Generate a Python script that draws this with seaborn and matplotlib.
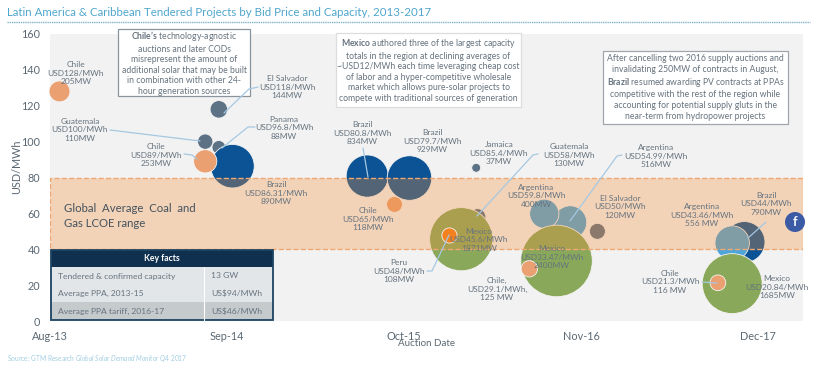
import matplotlib
matplotlib.use("Agg")
import matplotlib.pyplot as plt
import pandas as pd
import seaborn as sns
from matplotlib.lines import Line2D
from matplotlib.patches import Ellipse, Rectangle

W, H = 818, 372

# months since Aug-13
months = [0.7, 12.4, 11.4, 12.4, 13.4, 11.4, 23.3, 26.4, 25.3, 31.3, 31.4, 30.2, 29.3,
          38.2, 36.3, 40.2, 37.2, 35.2, 51.0, 50.1, 50.1, 49.05]
prices = [128, 118, 100, 96.8, 86.31, 89, 80.8, 79.7, 65, 85.4, 58, 45.6, 48,
          54.99, 59.8, 50, 33.47, 29.1, 44, 43.46, 20.84, 21.3]
capacity = [205, 144, 110, 88, 890, 253, 834, 929, 118, 37, 130, 1871, 108,
            516, 400, 120, 2400, 125, 790, 556, 1685, 116]
country = ["Chile", "El Salvador", "Guatemala", "Panama", "Brazil", "Chile", "Brazil", "Brazil",
           "Chile", "Jamaica", "Guatemala", "Mexico", "Peru", "Argentina", "Argentina",
           "El Salvador", "Mexico", "Chile", "Brazil", "Argentina", "Mexico", "Chile"]

colors = {"Chile": "#eaa070", "El Salvador": "#5d7285", "Guatemala": "#5d7285", "Panama": "#5d7285",
          "Jamaica": "#5d7285", "Brazil": "#0b5394", "Mexico": "#8aa85a", "Peru": "#f5801e",
          "Argentina": "#4ea5d9"}

tick_pos = [0, 13, 26, 39, 52]
tick_names = ["Aug-13", "Sep-14", "Oct-15", "Nov-16", "Dec-17"]

labels = [
    ("Chile\nUSD128/MWh\n205MW", 76, 73),
    ("El Salvador\nUSD118/MWh\n144MW", 287, 87),
    ("Guatemala\nUSD100/MWh\n110MW", 80, 130),
    ("Panama\nUSD96.8/MWh\n88MW", 284, 128),
    ("Chile\nUSD89/MWh\n253MW", 156, 155),
    ("Brazil\nUSD86.31/MWh\n890MW", 276, 193),
    ("Brazil\nUSD80.8/MWh\n834MW", 362, 133),
    ("Brazil\nUSD79.7/MWh\n929MW", 432, 141),
    ("Chile\nUSD65/MWh\n118MW", 368, 219),
    ("Jamaica\nUSD85.4/MWh\n37MW", 499, 153),
    ("Guatemala\nUSD58/MWh\n130MW", 569, 155),
    ("Argentina\nUSD54.99/MWh\n516MW", 656, 156),
    ("Argentina\nUSD59.8/MWh\n400MW", 536, 196),
    ("El Salvador\nUSD50/MWh\n120MW", 620, 207),
    ("Mexico\nUSD45.6/MWh\n1871MW", 479, 240),
    ("Peru\nUSD48/MWh\n108MW", 399, 271),
    ("Mexico\nUSD33.47/MWh\n2400MW", 552, 257),
    ("Chile,\nUSD29.1/MWh,\n125 MW", 497, 289),
    ("Argentina\nUSD43.46/MWh\n556 MW", 702, 215),
    ("Brazil\nUSD44/MWh\n790MW", 766, 204),
    ("Chile\nUSD21.3/MWh\n116 MW", 670, 282),
    ("Mexico\nUSD20.84/MWh\n1685MW", 777, 287),
]

leaders = [
    [(258, 87), (249, 89), (224, 113)],
    [(110, 130), (200, 141)],
    [(255, 127), (248, 127), (222, 148)],
    [(184, 154), (192, 155), (197, 159)],
    [(363, 148), (368, 177)],
    [(538, 154), (533, 155), (477, 216)],
    [(622, 155), (617, 156), (570, 221)],
    [(427, 271), (432, 271), (449, 235)],
    [(766, 222), (748, 238)],
    [(702, 282), (717, 283)],
]

notes = [
    ("$\\mathbf{Chile’s}$ technology-agnostic\nauctions and later CODs\nmisrepresent the amount of\n"
     "additional solar that may be built\nin combination with other 24-\nhour generation sources",
     (118, 29, 250, 96), "#8a949c"),
    ("$\\mathbf{Mexico}$ authored three of the largest capacity\ntotals in the region at declining averages of\n"
     "~USD12/MWh each time leveraging cheap cost\nof labor and a hyper-competitive wholesale\n"
     "market which allows pure-solar projects to\ncompete with traditional sources of generation",
     (336, 33, 521, 107), "#dddddd"),
    ("After cancelling two 2016 supply auctions and\ninvalidating 250MW of contracts in August,\n"
     "$\\mathbf{Brazil}$ resumed awarding PV contracts at PPAs\ncompetitive with the rest of the region while\n"
     "accounting for potential supply gluts in the\nnear-term from hydropower projects",
     (603, 51, 788, 124), "#a0a6ab"),
]

facts_left = ["Tendered & confirmed capacity", "Average PPA, 2013-15", "Average PPA tariff, 2016-17"]
facts_right = ["13 GW", "US\\$94/MWh", "US\\$46/MWh"]

TEXT = "#66737f"


def fx(x):
    return x / W


def fy(y):
    return 1 - y / H


def main():
    sns.set_style("white")
    plt.rcParams["font.family"] = ["Lato", "DejaVu Sans"]
    plt.rcParams["mathtext.fontset"] = "custom"
    plt.rcParams["mathtext.rm"] = "Lato"
    plt.rcParams["mathtext.bf"] = "Lato:bold"
    plt.rcParams["mathtext.it"] = "Lato:italic"

    df = pd.DataFrame({"month": months, "price": prices, "mw": capacity, "country": country})

    fig = plt.figure(figsize=(W / 100, H / 100), dpi=100)
    ax = fig.add_axes([fx(50), fy(321), (803 - 50) / W, (321 - 34) / H])
    ax.set_facecolor("#f2f2f2")

    kw = dict(x="month", y="price", size="mw", hue="country", palette=colors, sizes=(41, 2652),
              size_norm=(37, 2400), legend=False, edgecolor="#f4f4f4", linewidth=0.6, clip_on=False, ax=ax)
    sns.scatterplot(data=df[df.country != "Peru"], zorder=2, **kw)
    ax.axhspan(40, 80, facecolor=(0.97, 0.55, 0.2, 0.3), edgecolor="#f0a872", linestyle="--",
               linewidth=1, zorder=3)
    sns.scatterplot(data=df[df.country == "Peru"], zorder=4, **kw)

    ax.set_xlim(0, 55.3)
    ax.set_ylim(0, 160)
    ax.set_xticks(tick_pos, tick_names)
    ax.set_yticks(range(0, 161, 20))
    ax.tick_params(axis="both", length=0, labelsize=7.8, labelcolor="#5b6873")
    ax.tick_params(axis="x", pad=7)
    ax.tick_params(axis="y", pad=7)
    ax.set_xlabel("")
    ax.set_ylabel("")
    sns.despine(ax=ax, left=True, bottom=True)

    # title and footer
    fig.text(fx(7), fy(12), "Latin America & Caribbean Tendered Projects by Bid Price and Capacity, 2013-2017",
             color="#4fa6cc", fontsize=8.3, va="center")
    fig.add_artist(Line2D([fx(7), fx(810)], [fy(22), fy(22)], color="#7fb3c8", lw=1, ls=(0, (1, 0.6))))
    fig.text(fx(7), fy(358), "Source: GTM Research $\\mathit{Global\\ Solar\\ Demand\\ Monitor\\ Q4\\ 2017}$",
             color="#a3cfe2", fontsize=4.8, va="center")
    fig.text(fx(426), fy(344), "Auction Date", color="#5b6873", fontsize=7, ha="center", va="center")
    fig.text(fx(17), fy(167), "USD/MWh", color="#5b6873", fontsize=7.8, rotation=90, ha="center", va="center")

    fig.text(fx(64), fy(216), "Global  Average  Coal  and\nGas LCOE range", color="#43525e", fontsize=8.2,
             va="center", linespacing=1.35)

    # leader lines
    for pts in leaders:
        fig.add_artist(Line2D([fx(p[0]) for p in pts], [fy(p[1]) for p in pts], color="#a5c8e2", lw=0.9))

    # bubble labels
    for txt, x, y in labels:
        fig.text(fx(x), fy(y), txt, color=TEXT, fontsize=6.0, ha="center", va="center", linespacing=1.27)

    # callout boxes
    for txt, (x0, y0, x1, y1), edge in notes:
        fig.add_artist(Rectangle((fx(x0), fy(y1)), (x1 - x0) / W, (y1 - y0) / H, facecolor="white",
                                 edgecolor=edge, lw=0.9, transform=fig.transFigure))
        fig.text(fx((x0 + x1) / 2), fy((y0 + y1) / 2), txt, color=TEXT, fontsize=6.2, ha="center",
                 va="center", linespacing=1.22)

    # key facts table
    for y0, y1, c in [(250, 267, "#10304f"), (267, 302, "#e3e6e8"), (302, 320, "#c5cacd")]:
        fig.add_artist(Rectangle((fx(51), fy(y1)), 222 / W, (y1 - y0) / H, facecolor=c, edgecolor="none",
                                 transform=fig.transFigure))
    fig.add_artist(Line2D([fx(204), fx(204)], [fy(267), fy(320)], color="white", lw=0.8))
    fig.add_artist(Rectangle((fx(51), fy(320)), 222 / W, 70 / H, facecolor="none", edgecolor="#1d4563",
                             lw=1.3, transform=fig.transFigure))
    fig.text(fx(162), fy(258.5), "Key facts", color="white", fontsize=6.2, fontweight="bold",
             ha="center", va="center")
    for i in range(3):
        fig.text(fx(58), fy(276 + 17.7 * i), facts_left[i], color=TEXT, fontsize=6.1, va="center")
        fig.text(fx(211), fy(276 + 17.7 * i), facts_right[i], color=TEXT, fontsize=6.1, va="center")

    # facebook badge sitting on the page
    fig.add_artist(Ellipse((fx(795), fy(222)), 20 / W, 20 / H, facecolor="#3b5ba5", edgecolor="none",
                           transform=fig.transFigure))
    fig.text(fx(795), fy(222), "f", color="white", fontsize=9, fontweight="bold", ha="center", va="center")

    fig.savefig("out.png", dpi=100)
    plt.close(fig)


if __name__ == "__main__":
    main()
